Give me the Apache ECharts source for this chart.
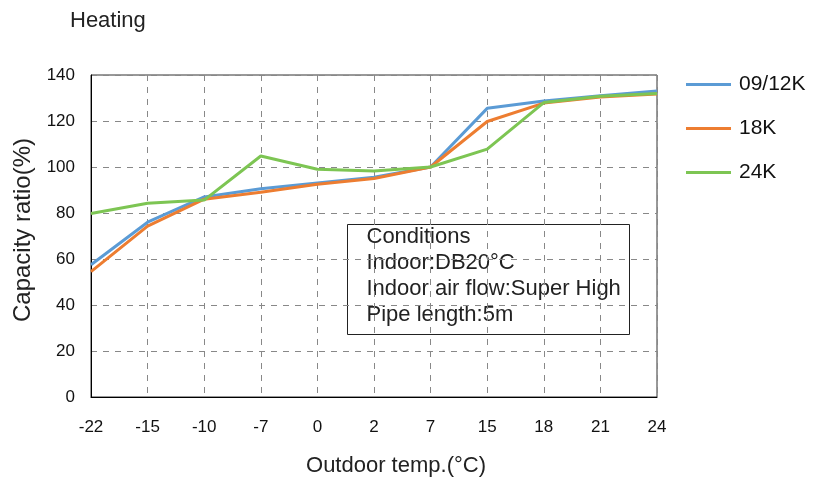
<!DOCTYPE html>
<html>
<head>
<meta charset="utf-8">
<script src="https://cdn.jsdelivr.net/npm/echarts@6/dist/echarts.min.js"></script>
<style>html,body{margin:0;padding:0;background:#fff}#c{width:827px;height:477px}</style>
</head>
<body>
<div id="c"></div>
<script>
const categories = ['-22','-15','-10','-7','0','2','7','15','18','21','24'];
const s0912 = [57.5, 76, 87, 90.5, 93, 95.5, 100, 125.5, 128.7, 131, 133];
const s18 = [54.5, 74.3, 86, 89, 92.5, 95, 100, 119.8, 127.8, 130.4, 131.7];
const s24 = [79.8, 84.2, 85.6, 104.8, 99, 98.3, 100, 107.8, 128, 130.8, 132];
const seriesNames = ['09/12K', '18K', '24K'];
const colors = ['#5B9BD5', '#ED7D31', '#7DC553'];
const conditions = ['Conditions', 'Indoor:DB20°C', 'Indoor air flow:Super High', 'Pipe length:5m'];

const font = 'Liberation Sans, Arial, sans-serif';
const chart = echarts.init(document.getElementById('c'), null, {renderer: 'canvas'});
const mk = (name, data, color) => ({
  name, type: 'line', data, symbol: 'none',
  lineStyle: {color, width: 3}, itemStyle: {color}
});
chart.setOption({
  animation: false,
  textStyle: {fontFamily: font},
  title: {text: 'Heating', left: 65, top: 5, textStyle: {fontFamily: font, fontSize: 22, fontWeight: 'normal', color: '#222'}},
  legend: {
    orient: 'vertical', left: 681, top: 69, itemGap: 23, itemWidth: 45, itemHeight: 3,
    icon: 'rect',
    textStyle: {fontFamily: font, fontSize: 21, color: '#111', padding: [0,0,0,3]},
    data: seriesNames
  },
  grid: {left: 91, right: 170, top: 75, bottom: 80, show: true, borderColor: '#333', borderWidth: 1, outerBoundsMode: 'none', containLabel: false},
  xAxis: {
    type: 'category', data: categories, boundaryGap: false,
    name: 'Outdoor temp.(°C)', nameLocation: 'middle', nameGap: 58,
    nameTextStyle: {fontFamily: font, fontSize: 22, color: '#222', padding: [0, 0, 0, 44]},
    axisLine: {lineStyle: {color: '#000', width: 1}},
    axisTick: {show: false},
    axisLabel: {fontFamily: font, fontSize: 17, color: '#111', margin: 22},
    splitLine: {show: true, lineStyle: {color: '#888', type: [6, 6], width: 1}}
  },
  yAxis: {
    type: 'value', min: 0, max: 140, interval: 20,
    name: 'Capacity ratio(%)', nameLocation: 'middle', nameGap: 53,
    nameTextStyle: {fontFamily: font, fontSize: 24, color: '#222', padding: [0, 0, 0, 12]},
    axisLine: {show: true, lineStyle: {color: '#000', width: 1}},
    axisTick: {show: false},
    axisLabel: {fontFamily: font, fontSize: 17, color: '#111', margin: 16},
    splitLine: {show: true, lineStyle: {color: '#888', type: [6, 6], width: 1}}
  },
  series: [mk(seriesNames[0], s0912, colors[0]), mk(seriesNames[1], s18, colors[1]), mk(seriesNames[2], s24, colors[2])],
  graphic: [{
    type: 'group', left: 347, top: 224,
    children: [
      {type: 'rect', shape: {x: 0, y: 0, width: 282, height: 110}, style: {fill: '#fff', stroke: '#222', lineWidth: 1}},
      ...conditions.map((t, i) => ({type: 'text', x: 19, y: 1 + i * 26, style: {text: t, fontFamily: font, fontSize: 22, fill: '#222'}}))
    ]
  }]
});
</script>
</body>
</html>
